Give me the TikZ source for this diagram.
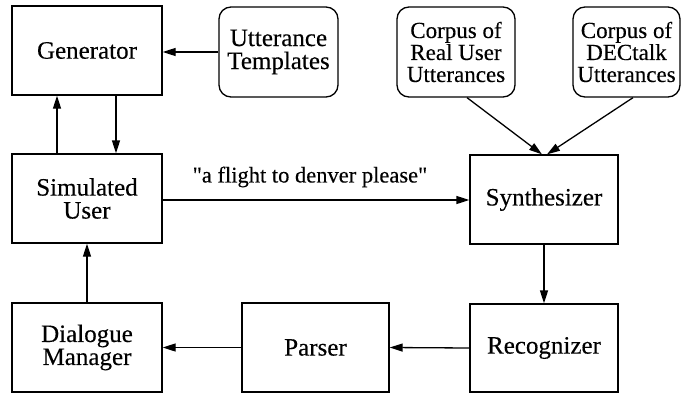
\documentclass[tikz,border=0pt]{standalone}
\usepackage{fontspec}
\setmainfont{Liberation Serif}
\newfontfamily\heavy{Liberation Serif}[FakeBold=0.3]
\usetikzlibrary{arrows.meta}
\begin{document}
\begin{tikzpicture}[x=1pt,y=-1pt,
  every node/.style={font=\heavy\fontsize{25}{23}\selectfont, align=center, inner sep=0pt},
  sqbox/.style={draw, line width=1.3pt, minimum width=150pt, minimum height=89pt},
  rbox/.style={draw, line width=1.3pt, rounded corners=12pt, minimum height=90pt},
  small/.style={font=\heavy\fontsize{23}{22}\selectfont},
  arr/.style={line width=1.3pt, -{Triangle[length=13pt,width=8pt]}}
]
\useasboundingbox (0,0) rectangle (683,394);
\node[sqbox] (gen) at (87,50.5) {Generator};
\node[rbox, minimum width=119pt] (templ) at (278.5,52) {Utterance\\Templates};
\node[rbox, small, minimum width=118pt] (real) at (456,52) {Corpus of\\Real User\\Utterances};
\node[rbox, small, minimum width=107pt] (dec) at (626.5,52) {Corpus of\\DECtalk\\Utterances};
\node[sqbox] (sim) at (87,198.5) {Simulated\\User};
\node[sqbox, minimum width=148pt] (synth) at (544,199.5) {Synthesizer};
\node[sqbox] (dm) at (87,347.5) {Dialogue\\Manager};
\node[sqbox, minimum width=147pt] (parser) at (315.5,347.5) {Parser};
\node[sqbox, minimum width=148pt, minimum height=88pt] (recog) at (544,348) {Recognizer};
\node[font=\heavy\fontsize{22.5}{23}\selectfont] (lbl) at (310,177) {\symbol{34}a flight to denver please\symbol{34}};

\draw[arr] (templ.west) -- (templ.west -| gen.east);
\draw[arr] (sim.north -| 57,0) -- (gen.south -| 57,0);
\draw[arr] (gen.south -| 116,0) -- (sim.north -| 116,0);
\draw[arr] (dm.north) -- (sim.south);
\draw[arr] (sim.east |- 0,200) -- (synth.west |- 0,200);
\draw[arr] (synth.south) -- (recog.north);
\draw[arr] (recog.west) -- (parser.east);
\draw[arr] (parser.west) -- (dm.east);
\draw[arr] (real.south -| 467,0) -- (synth.north -| 542,0);
\draw[arr] (dec.south -| 633,0) -- (synth.north -| 547,0);
\end{tikzpicture}
\end{document}
